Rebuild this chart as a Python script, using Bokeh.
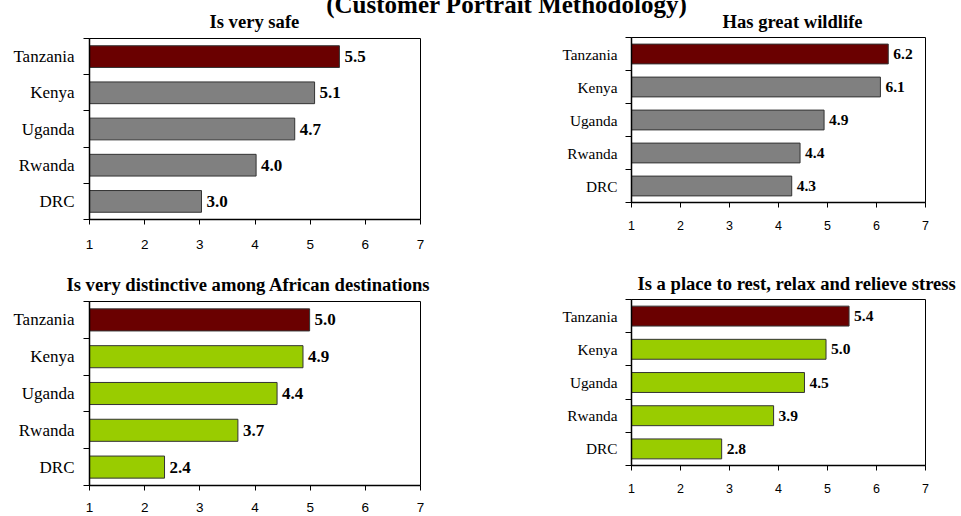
from bokeh.plotting import figure
from bokeh.models import FactorRange, Range1d, LinearAxis, FixedTicker, ColumnDataSource, Div
from bokeh.layouts import column, row
from bokeh.core.properties import value
from bokeh.embed import file_html
from bokeh.resources import INLINE

# ---------------- data ----------------
countries = ["Tanzania", "Kenya", "Uganda", "Rwanda", "DRC"]
main_title = "(Customer Portrait Methodology)"
panel_titles = ["Is very safe", "Has great wildlife",
                "Is very distinctive among African destinations",
                "Is a place to rest, relax and relieve stress"]
safe = [5.53, 5.08, 4.72, 4.02, 3.03]
wildlife = [6.24, 6.08, 4.93, 4.44, 4.27]
distinctive = [4.99, 4.87, 4.40, 3.69, 2.36]
relax = [5.44, 4.97, 4.53, 3.90, 2.84]
x_ticks = [1, 2, 3, 4, 5, 6, 7]

HIGHLIGHT = "#6A0000"
GRAY = "#808080"
GREEN = "#99CC00"
SERIF = "Liberation Serif"
SANS = "Liberation Sans"


def panel(title, vals, base_color, width, height, mb, cat_size, val_size, tick_size,
          title_offset, title_standoff, x_standoff, cat_standoff):
    factors = list(reversed(countries))
    p = figure(width=width, height=height, output_backend="svg", toolbar_location=None,
               y_range=FactorRange(factors=factors), x_range=Range1d(x_ticks[0], x_ticks[-1]),
               min_border_left=mb[0], min_border_right=mb[1], min_border_top=mb[2],
               min_border_bottom=mb[3])
    p.frame_align = False
    p.xgrid.visible = False
    p.ygrid.visible = False
    p.border_fill_color = None
    p.background_fill_color = "white"
    p.outline_line_color = "black"
    p.outline_line_width = 1

    # x axis
    xa = p.xaxis[0]
    xa.ticker = FixedTicker(ticks=x_ticks)
    xa.minor_tick_line_color = None
    xa.major_tick_in = 0
    xa.major_tick_out = 5
    xa.axis_line_width = 1.5
    xa.axis_line_color = "black"
    xa.major_tick_line_color = "black"
    xa.major_label_text_font = SANS
    xa.major_label_text_font_size = tick_size
    xa.major_label_text_color = "black"
    xa.major_label_standoff = x_standoff

    # category axis (labels only)
    ca = p.yaxis[0]
    ca.axis_line_color = None
    ca.major_tick_line_color = None
    ca.major_tick_in = 0
    ca.major_tick_out = 0
    ca.major_label_standoff = cat_standoff
    ca.major_label_text_font = SERIF
    ca.major_label_text_font_size = cat_size
    ca.major_label_text_color = "black"

    # boundary ticks axis (between categories), next to the frame
    ta = LinearAxis(ticker=FixedTicker(ticks=list(range(len(countries) + 1))),
                    major_tick_in=0, major_tick_out=6, minor_tick_line_color=None,
                    major_label_text_font_size="1px", major_label_text_color=None,
                    major_label_standoff=0,
                    axis_line_width=1.5, axis_line_color="black",
                    major_tick_line_color="black")
    p.left = [ta, ca]

    colors = [HIGHLIGHT] + [base_color] * (len(countries) - 1)
    src = ColumnDataSource(dict(country=countries, val=vals, color=colors,
                                label=[f"{v:.1f}" for v in vals]))
    p.hbar(y="country", left=x_ticks[0], right="val", height=0.6, fill_color="color",
           line_color="#333333", line_width=1, source=src)
    p.text(x="val", y="country", text="label", x_offset=5, text_baseline="middle",
           text_align="left", text_font=value(SERIF), text_font_style="bold",
           text_font_size=val_size, text_color="black", source=src)

    p.title.text = title
    p.title.align = "left"
    p.title.offset = title_offset
    p.title.standoff = title_standoff
    p.title.text_font = SERIF
    p.title.text_font_style = "bold"
    p.title.text_font_size = "18.6px"
    p.title.text_color = "black"
    return p


p1 = panel(panel_titles[0], safe, GRAY, 472, 250, (81, 60, 37, 29),
           "17px", "17px", "13.5px", 120, 13, 15, 9)
p2 = panel(panel_titles[1], wildlife, GRAY, 481, 250, (151, 36, 36, 49),
           "15.3px", "15.5px", "12.5px", 91, 11, 13, 8)
p3 = panel(panel_titles[2], distinctive, GREEN, 472, 265, (81, 60, 50, 31),
           "17px", "17px", "13.5px", -23, 14, 12, 9)
p4 = panel(panel_titles[3], relax, GREEN, 481, 265, (151, 36, 48, 51),
           "15.3px", "15.5px", "12.5px", 6, 11, 13, 8)

title_div = Div(
    text=(f'<div style="width:945px;text-align:center;padding-left:52px;box-sizing:border-box;'
          f'font-family:\'{SERIF}\';font-weight:bold;font-size:25px;line-height:20px;'
          f'white-space:nowrap;color:black">{main_title}</div>'),
    width=945, height=26, margin=(-6, 0, -20, 0))

layout = column(title_div, row(p1, p2), row(p3, p4), margin=(1, 0, 0, 8))

open("out.html", "w").write(file_html(layout, INLINE))
